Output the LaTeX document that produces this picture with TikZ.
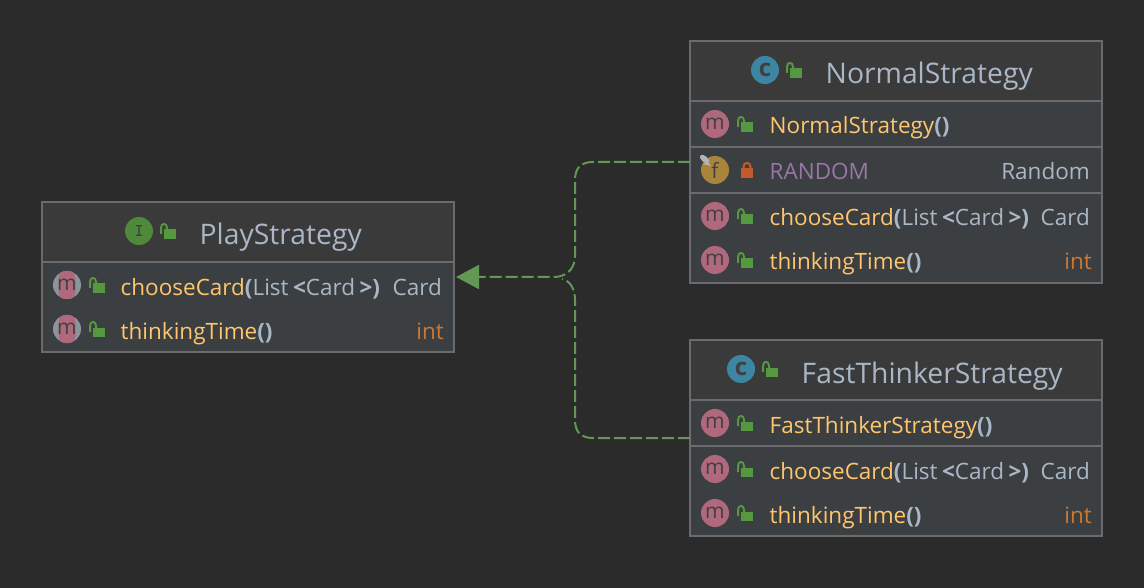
\documentclass[tikz,border=0pt]{standalone}
\usepackage{fontspec}
\setmainfont{Open Sans}
\usetikzlibrary{arrows.meta}
\definecolor{canvasbg}{HTML}{2B2B2B}
\definecolor{headbg}{HTML}{3A3A3A}
\definecolor{bodybg}{HTML}{3C3F41}
\definecolor{edgegray}{HTML}{6B6B6B}
\definecolor{titleblue}{HTML}{A9B7C6}
\definecolor{methodyellow}{HTML}{FFC66D}
\definecolor{fieldpurple}{HTML}{9876AA}
\definecolor{intorange}{HTML}{CC7832}
\definecolor{mpink}{HTML}{B0697C}
\definecolor{fgold}{HTML}{A9853C}
\definecolor{cblue}{HTML}{3D86A3}
\definecolor{igreen}{HTML}{4E8A3A}
\definecolor{lockgreen}{HTML}{55983F}
\definecolor{lockred}{HTML}{C4592B}
\definecolor{arrowgreen}{HTML}{629755}
\definecolor{pingray}{HTML}{8C959E}
\newcommand{\typeargs}{\textbf{(}List\hspace{4.4pt}\textbf{<}Card\hspace{4.4pt}\textbf{>)}}
\tikzset{
classbox/.style={rectangle, draw=edgegray, fill=bodybg, line width=1.5pt, inner sep=0pt, outer sep=0pt, minimum width=412pt},
headbox/.style={rectangle, draw=edgegray, fill=headbg, line width=1.5pt, inner sep=0pt, outer sep=0pt, minimum width=412pt, minimum height=60pt},
divider/.style={edgegray, line width=1.5pt},
titletext/.style={anchor=base west, inner sep=0pt, text=titleblue, font=\fontsize{28.3}{28}\selectfont},
methodtext/.style={anchor=base west, inner sep=0pt, text=methodyellow, font=\fontsize{22.5}{27}\selectfont},
fieldtext/.style={anchor=base west, inner sep=0pt, text=fieldpurple, font=\fontsize{22.5}{27}\selectfont},
typetext/.style={anchor=base east, inner sep=0pt, text=titleblue, font=\fontsize{22.5}{27}\selectfont},
inttext/.style={anchor=base east, inner sep=0pt, text=intorange, font=\fontsize{22.5}{27}\selectfont},
roundicon/.style={circle, inner sep=0pt, minimum size=28pt, text=black!75, font=\fontsize{21}{21}\selectfont},
abstracticon/.style={rectangle, fill=mpink, rounded corners=7pt, inner sep=0pt, minimum width=17pt, minimum height=28pt,
  label={[text=black!75, inner sep=0pt, font=\fontsize{21}{21}\selectfont]center:m}},
depends/.style={arrowgreen, line width=2pt, dash pattern=on 12pt off 4pt},
openlock/.pic={
  \fill[lockgreen] (0,-9.5) rectangle (12,0);
  \draw[lockgreen, line width=2pt] (-3,-5) -- (-3,-11) .. controls (-3,-16.5) and (3,-16.5) .. (3,-11) -- (3,-9);
},
closedlock/.pic={
  \fill[lockred] (0,-9.5) rectangle (12,0);
  \draw[lockred, line width=2pt] (2.5,-9) -- (2.5,-11) .. controls (2.5,-16.5) and (9.5,-16.5) .. (9.5,-11) -- (9.5,-9);
},
}
\begin{document}
\begin{tikzpicture}[x=1pt,y=-1pt]
  \fill[canvasbg] (0,0) rectangle (1144,588);
  \useasboundingbox (0,0) rectangle (1144,588);

  % the three boxes
  \node[classbox, minimum height=150pt] at (248,277) (play) {};
  \node[headbox] at (248,232) (playhead) {};
  \node[classbox, minimum height=242pt] at (896,162) (normal) {};
  \node[headbox] at (896,71) (normalhead) {};
  \draw[divider] (normal.west |- 0,147) -- (normal.east |- 0,147);
  \draw[divider] (normal.west |- 0,193) -- (normal.east |- 0,193);
  \node[classbox, minimum height=196pt] at (896,438) (fast) {};
  \node[headbox] at (896,370) (fasthead) {};
  \draw[divider] (fast.west |- 0,446) -- (fast.east |- 0,446);

  % arrows
  \draw[depends, -{Triangle[length=23pt, width=24pt]}, shorten >=2pt] (normal.west) -- (593,162) .. controls (581,162) and (575,168) .. (575,180) -- (575,255) .. controls (575,266) and (570,276) .. (555,277) -- (play.east);
  \draw[depends] (fast.west) -- (593,438) .. controls (581,438) and (575,432) .. (575,420) -- (575,300) .. controls (575,290) and (571,281) .. (562,279);

  % PlayStrategy
  \node[roundicon, fill=igreen] at (139,231) (playkind) {\fontsize{18}{18}\selectfont\ttfamily\bfseries I};
  \pic at (164,239) {openlock};
  \node[titletext] at (199.5,245) (playname) {PlayStrategy};

  \node[circle, fill=pingray, minimum size=28pt, inner sep=0pt] at (67,285) (playchooseback) {};
  \node[abstracticon] at (67,285) (playchooseicon) {};
  \pic at (93,293) {openlock};
  \node[methodtext] at (120.5,295) (playchoose) {chooseCard{\color{titleblue}\typeargs}};
  \node[typetext] at (442,295) (playchoosetype) {Card};

  \node[circle, fill=pingray, minimum size=28pt, inner sep=0pt] at (67,329) (playthinkback) {};
  \node[abstracticon] at (67,329) (playthinkicon) {};
  \pic at (93,337) {openlock};
  \node[methodtext] at (120.5,339) (playthink) {thinkingTime{\color{titleblue}\textbf{()}}};
  \node[inttext] at (444,339) (playthinktype) {int};

  % NormalStrategy
  \node[roundicon, fill=cblue, font=\fontsize{24}{24}\selectfont\bfseries] at (765,70) (normalkind) {c};
  \pic at (790,78) {openlock};
  \node[titletext] at (825.5,84) (normalname) {NormalStrategy};

  \node[roundicon, fill=mpink] at (715,124) (normalctoricon) {m};
  \pic at (741,132) {openlock};
  \node[methodtext] at (769.5,134) (normalctor) {NormalStrategy{\color{titleblue}\textbf{()}}};

  \node[roundicon, fill=fgold] at (715,170) (randomicon) {f};
  \fill[pingray!70!white] (707,161) -- (711,166) -- (703,164) -- cycle;
  \fill[pingray!70!white, rotate around={-40:(704.5,159)}] (704.5,159) ellipse (5.5pt and 3pt);
  \pic at (741,178) {closedlock};
  \node[fieldtext] at (769.5,180) (random) {RANDOM};
  \node[typetext] at (1090,180) (randomtype) {Random};

  \node[roundicon, fill=mpink] at (715,216) (normalchooseicon) {m};
  \pic at (741,224) {openlock};
  \node[methodtext] at (769.5,226) (normalchoose) {chooseCard{\color{titleblue}\typeargs}};
  \node[typetext] at (1090,226) (normalchoosetype) {Card};

  \node[roundicon, fill=mpink] at (715,260) (normalthinkicon) {m};
  \pic at (741,268) {openlock};
  \node[methodtext] at (769.5,270) (normalthink) {thinkingTime{\color{titleblue}\textbf{()}}};
  \node[inttext] at (1092,270) (normalthinktype) {int};

  % FastThinkerStrategy
  \node[roundicon, fill=cblue, font=\fontsize{24}{24}\selectfont\bfseries] at (741,369) (fastkind) {c};
  \pic at (766,377) {openlock};
  \node[titletext] at (801.5,383) (fastname) {FastThinkerStrategy};

  \node[roundicon, fill=mpink] at (715,423) (fastctoricon) {m};
  \pic at (741,431) {openlock};
  \node[methodtext] at (769.5,433) (fastctor) {FastThinkerStrategy{\color{titleblue}\textbf{()}}};

  \node[roundicon, fill=mpink] at (715,469) (fastchooseicon) {m};
  \pic at (741,477) {openlock};
  \node[methodtext] at (769.5,479) (fastchoose) {chooseCard{\color{titleblue}\typeargs}};
  \node[typetext] at (1090,479) (fastchoosetype) {Card};

  \node[roundicon, fill=mpink] at (715,513) (fastthinkicon) {m};
  \pic at (741,521) {openlock};
  \node[methodtext] at (769.5,523) (fastthink) {thinkingTime{\color{titleblue}\textbf{()}}};
  \node[inttext] at (1092,523) (fastthinktype) {int};
\end{tikzpicture}
\end{document}
